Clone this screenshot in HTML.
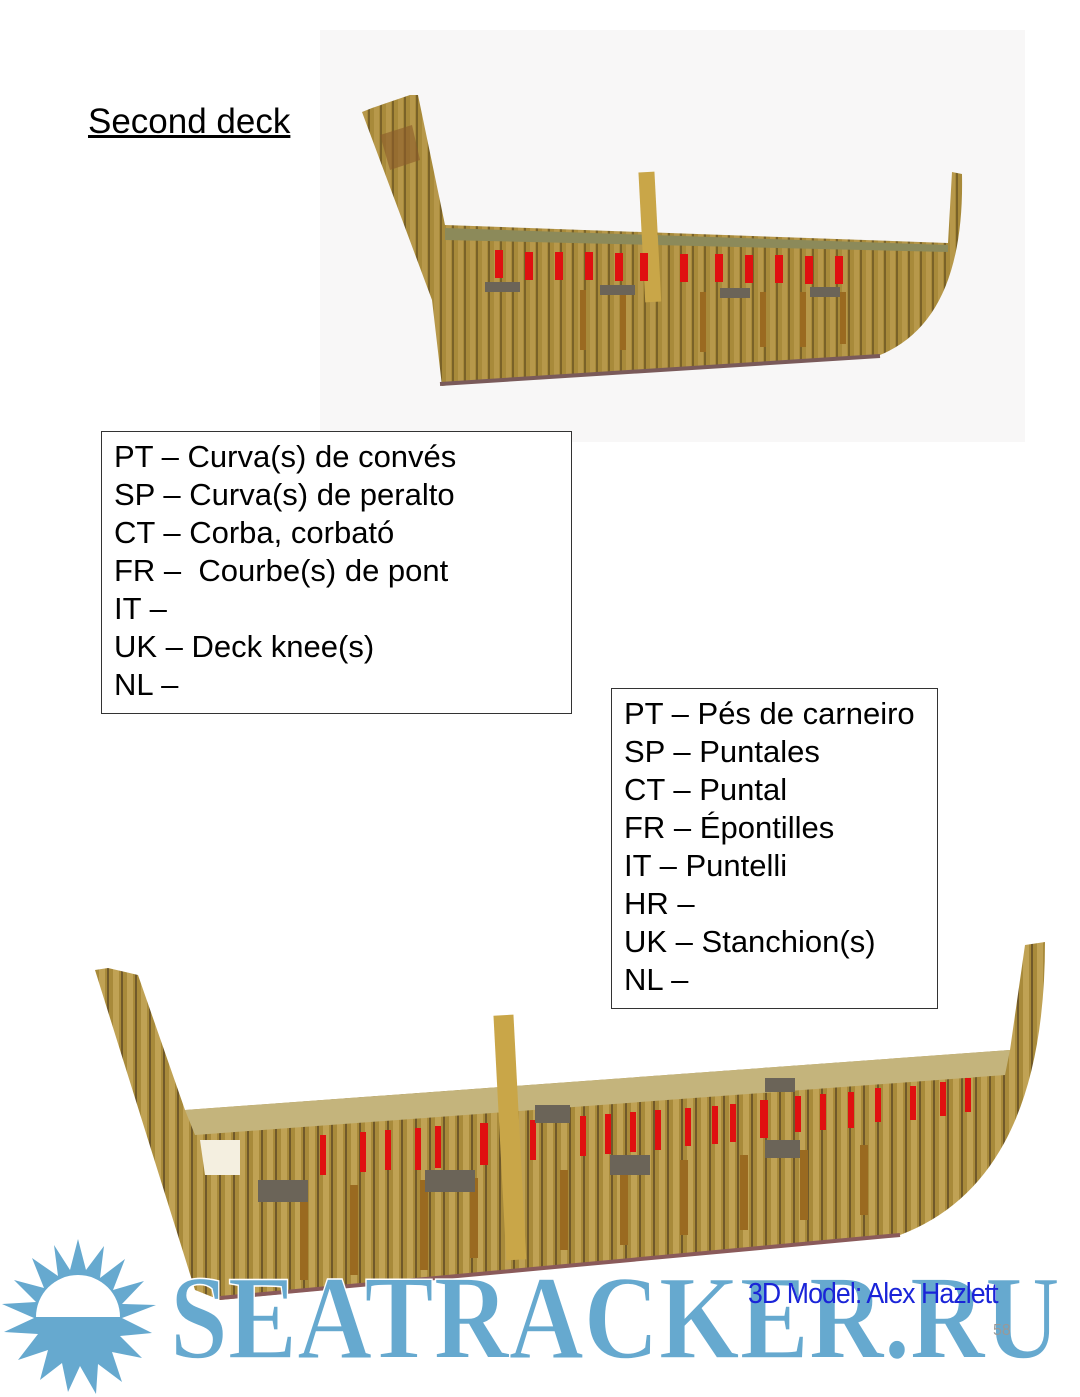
<!DOCTYPE html>
<html><head><meta charset="utf-8"><style>
body{margin:0;width:1080px;height:1397px;background:#fff;position:relative;overflow:hidden;font-family:"Liberation Sans",Helvetica,sans-serif}
.t{position:absolute;left:88px;top:102px;font-size:35px;text-decoration:underline;color:#000}
.box{position:absolute;border:1px solid #333;background:#fff;font-size:31px;line-height:38px;color:#000;padding:6px 12px;box-sizing:border-box;white-space:nowrap}
.m{position:absolute;left:748px;top:1278px;font-size:29px;color:#1a24d8;transform:scaleX(.92);transform-origin:left;letter-spacing:-1px}
.p{position:absolute;left:993px;top:1322px;font-size:16px;color:#999}
</style></head><body>
<svg width="1080" height="1397" style="position:absolute;left:0;top:0">
<defs>
<pattern id="st" width="12" height="12" patternUnits="userSpaceOnUse"><rect width="12" height="12" fill="#a88a3a"/><rect x="2" width="5" height="12" fill="#b7984a"/><rect x="8" width="2" height="12" fill="#7a6228"/></pattern>
<pattern id="st2" width="14" height="10" patternUnits="userSpaceOnUse"><rect width="14" height="10" fill="#a88a3a"/><rect x="1" width="6" height="10" fill="#c0a254"/><rect x="9" width="2" height="10" fill="#70592a"/></pattern>
</defs>
<rect x="320" y="30" width="705" height="412" fill="#f8f7f7"/>
<!-- top ship -->
<path d="M362,112 L372,108 L410,95 L418,95 L445,225 L948,243 L952,172 L962,174 Q965,320 880,355 L490,380 L442,386 L432,300 Z" fill="url(#st)"/>
<path d="M380,135 L412,125 L420,160 L390,170 Z" fill="#8a5a2a" opacity=".6"/>
<path d="M445,228 L948,245 L948,252 L445,240 Z" fill="#8c8a5a"/>
<path d="M440,384 L880,356" stroke="#7a5a5a" stroke-width="4"/>
<rect x="642" y="172" width="16" height="130" fill="#c9a648" transform="rotate(-3 650 240)"/>
<g fill="#e01010">
<rect x="495" y="250" width="8" height="28"/><rect x="525" y="252" width="8" height="28"/><rect x="555" y="252" width="8" height="28"/><rect x="585" y="252" width="8" height="28"/><rect x="615" y="253" width="8" height="28"/><rect x="640" y="253" width="8" height="28"/><rect x="680" y="254" width="8" height="28"/><rect x="715" y="254" width="8" height="28"/><rect x="745" y="255" width="8" height="28"/><rect x="775" y="255" width="8" height="28"/><rect x="805" y="256" width="8" height="28"/><rect x="835" y="256" width="8" height="28"/>
</g>
<g fill="#9a6a20">
<rect x="580" y="290" width="6" height="60"/><rect x="620" y="290" width="6" height="60"/><rect x="700" y="292" width="6" height="60"/><rect x="760" y="292" width="6" height="55"/><rect x="800" y="292" width="6" height="55"/><rect x="840" y="292" width="6" height="52"/>
</g>
<g fill="#6b6458"><rect x="485" y="282" width="35" height="10"/><rect x="600" y="285" width="35" height="10"/><rect x="720" y="288" width="30" height="10"/><rect x="810" y="287" width="30" height="10"/></g>
<!-- bottom ship -->
<path d="M95,970 L108,968 L138,975 L185,1110 L1010,1050 L1025,945 L1045,942 Q1045,1180 900,1235 L220,1300 L195,1290 Z" fill="url(#st2)"/>
<path d="M185,1110 L1010,1050 L1005,1075 L195,1135 Z" fill="#c4b47c"/>
<path d="M200,1140 L240,1140 L240,1175 L205,1175 Z" fill="#f4efe0"/>
<path d="M220,1298 L900,1235" stroke="#8a5a5a" stroke-width="4"/>
<rect x="500" y="1015" width="20" height="245" fill="#c9a648" transform="rotate(-3 510 1140)"/>
<g fill="#e01010">
<rect x="320" y="1135" width="6" height="40"/><rect x="360" y="1132" width="6" height="40"/><rect x="385" y="1130" width="6" height="40"/><rect x="415" y="1128" width="6" height="42"/><rect x="435" y="1126" width="6" height="42"/><rect x="480" y="1123" width="8" height="42"/><rect x="530" y="1120" width="6" height="40"/><rect x="580" y="1116" width="6" height="40"/><rect x="605" y="1114" width="6" height="40"/><rect x="630" y="1112" width="6" height="40"/><rect x="655" y="1110" width="6" height="40"/><rect x="685" y="1108" width="6" height="38"/><rect x="712" y="1106" width="6" height="38"/><rect x="730" y="1104" width="6" height="38"/><rect x="760" y="1100" width="8" height="38"/><rect x="795" y="1096" width="6" height="36"/><rect x="820" y="1094" width="6" height="36"/><rect x="848" y="1092" width="6" height="36"/><rect x="875" y="1088" width="6" height="34"/><rect x="910" y="1086" width="6" height="34"/><rect x="940" y="1082" width="6" height="34"/><rect x="965" y="1078" width="6" height="34"/>
</g>
<g fill="#9a6a20">
<rect x="300" y="1190" width="8" height="90"/><rect x="350" y="1185" width="8" height="90"/><rect x="420" y="1180" width="8" height="90"/><rect x="470" y="1178" width="8" height="80"/><rect x="560" y="1170" width="8" height="80"/><rect x="620" y="1165" width="8" height="80"/><rect x="680" y="1160" width="8" height="75"/><rect x="740" y="1155" width="8" height="75"/><rect x="800" y="1150" width="8" height="70"/><rect x="860" y="1145" width="8" height="70"/>
</g>
<g fill="#6b6458"><rect x="258" y="1180" width="50" height="22"/><rect x="425" y="1170" width="50" height="22"/><rect x="535" y="1105" width="35" height="18"/><rect x="610" y="1155" width="40" height="20"/><rect x="765" y="1140" width="35" height="18"/><rect x="765" y="1078" width="30" height="14"/></g>
<!-- sun -->
<polygon fill="#66a9cf" points="78,1239 86,1270 104,1246 100,1278 125,1259 113,1290 144,1281 122,1304 156,1305 122,1318 152,1333 120,1336 142,1358 112,1352 122,1382 98,1364 96,1394 80,1366 68,1392 62,1363 40,1380 48,1350 18,1360 38,1334 4,1332 34,1318 2,1304 36,1302 14,1280 44,1288 32,1258 58,1276 54,1245 70,1270"/>
<path d="M36,1317 A42,42 0 0 1 120,1317 Z" fill="#fff"/>
<text x="170" y="1358" font-family="Liberation Serif,serif" font-weight="bold" font-size="120" fill="#66a9cf" stroke="#fff" stroke-width="1.5" textLength="890" lengthAdjust="spacingAndGlyphs">SEATRACKER.RU</text>
</svg>
<div class="t">Second deck</div>
<div class="box" style="left:101px;top:431px;width:471px;height:283px">PT – Curva(s) de convés<br>SP – Curva(s) de peralto<br>CT – Corba, corbató<br>FR –&nbsp; Courbe(s) de pont<br>IT –<br>UK – Deck knee(s)<br>NL –</div>
<div class="box" style="left:611px;top:688px;width:327px;height:321px">PT – Pés de carneiro<br>SP – Puntales<br>CT – Puntal<br>FR – Épontilles<br>IT – Puntelli<br>HR –<br>UK – Stanchion(s)<br>NL –</div>
<div class="m">3D Model: Alex Hazlett</div>
<div class="p">58</div>
</body></html>
